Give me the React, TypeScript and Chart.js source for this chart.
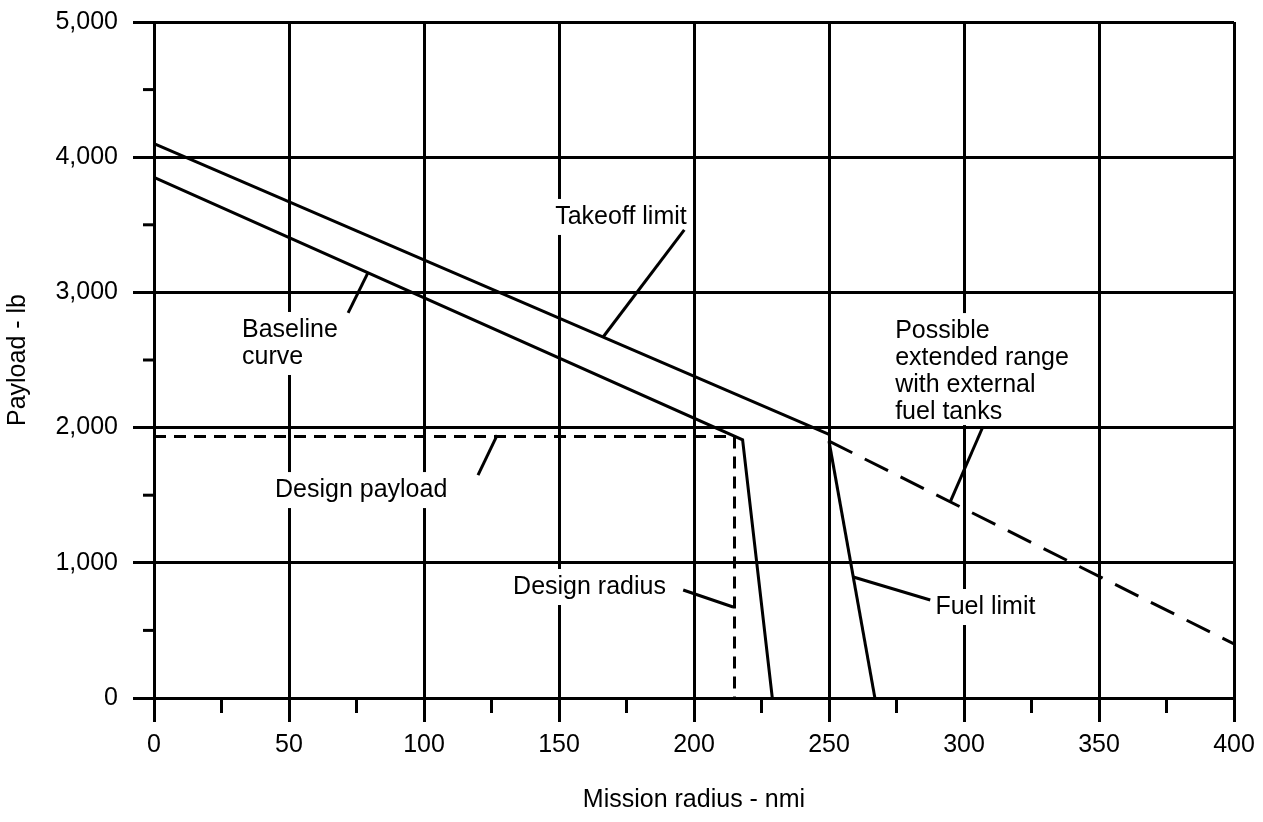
import React, { useEffect, useRef } from "react";
import { Chart, registerables } from "chart.js";

Chart.register(...registerables);

// ---- Data ----
const takeoffX = [0, 250];
const takeoffY = [4100, 1950];
const baselineX = [0, 218, 229];
const baselineY = [3850, 1910, 0];
const fuelX = [250, 267];
const fuelY = [1900, 0];
const extendedX = [250, 400];
const extendedY = [1900, 400];
const designPayloadX = [0, 215];
const designPayloadY = [1935, 1935];
const designRadiusX = [215, 215];
const designRadiusY = [1935, 0];

const xMinorTicks = [25, 75, 125, 175, 225, 275, 325, 375];
const yMinorTicks = [500, 1500, 2500, 3500, 4500];

// ---- Annotations (data coordinates) ----
const annotationTexts = [
  ["Takeoff limit"],
  ["Baseline", "curve"],
  ["Design payload"],
  ["Design radius"],
  ["Fuel limit"],
  ["Possible", "extended range", "with external", "fuel tanks"],
];
const annotationX = [148.6, 32.6, 44.8, 133, 289.4, 274.5];
const annotationY = [3558, 2722, 1538, 821, 673, 2714];
const annotationBoxBottom = [18, 18, 18, 18, 18, 13];
const leaderFrom = [
  [196.4, 3462],
  [71.9, 2848],
  [120, 1649],
  [196, 799],
  [287.5, 725],
  [306.8, 1997],
];
const leaderTo = [
  [166.4, 2672],
  [79.3, 3148],
  [127.1, 1945],
  [214.5, 673],
  [259, 895],
  [294.9, 1450],
];

const FONT = '"Liberation Sans", Arial, Helvetica, sans-serif';
const FS = 25;

const toPts = (xs: number[], ys: number[]) => xs.map((x, i) => ({ x, y: ys[i] }));

const annotationPlugin = {
  id: "annotations",
  beforeDatasetsDraw(chart: any) {
    const ctx = chart.ctx;
    const xs = chart.scales.x;
    const ys = chart.scales.y;
    ctx.save();
    // minor ticks
    ctx.strokeStyle = "#000";
    ctx.lineWidth = 3;
    ctx.lineCap = "butt";
    xMinorTicks.forEach((v) => {
      const px = xs.getPixelForValue(v);
      ctx.beginPath();
      ctx.moveTo(px, ys.bottom);
      ctx.lineTo(px, ys.bottom + 15);
      ctx.stroke();
    });
    yMinorTicks.forEach((v) => {
      const py = ys.getPixelForValue(v);
      ctx.beginPath();
      ctx.moveTo(xs.left - 11, py);
      ctx.lineTo(xs.left, py);
      ctx.stroke();
    });
    // labels with white boxes
    ctx.font = `${FS}px ${FONT}`;
    ctx.textBaseline = "middle";
    ctx.textAlign = "left";
    const lh = 27;
    annotationTexts.forEach((lines, i) => {
      const px = xs.getPixelForValue(annotationX[i]);
      const py = ys.getPixelForValue(annotationY[i]);
      const w = Math.max(...lines.map((l) => ctx.measureText(l).width));
      ctx.fillStyle = "#fff";
      ctx.fillRect(px - 5, py - 18, w + 10, (lines.length - 1) * lh + 18 + annotationBoxBottom[i]);
      ctx.fillStyle = "#000";
      lines.forEach((l, j) => ctx.fillText(l, px, py + j * lh));
    });
    // leader lines
    ctx.lineWidth = 3;
    leaderFrom.forEach((f, i) => {
      const t = leaderTo[i];
      ctx.beginPath();
      ctx.moveTo(xs.getPixelForValue(f[0]), ys.getPixelForValue(f[1]));
      ctx.lineTo(xs.getPixelForValue(t[0]), ys.getPixelForValue(t[1]));
      ctx.stroke();
    });
    ctx.restore();
  },
};

export default function App() {
  const ref = useRef<HTMLCanvasElement | null>(null);
  useEffect(() => {
    if (!ref.current) return;
    const line = (xs: number[], ys: number[], dash: number[] = []) => ({
      data: toPts(xs, ys),
      showLine: true,
      borderColor: "#000",
      backgroundColor: "#000",
      borderWidth: 3,
      borderDash: dash,
      pointRadius: 0,
      tension: 0,
      fill: false,
    });
    const chart = new Chart(ref.current, {
      type: "scatter",
      data: {
        datasets: [
          line(takeoffX, takeoffY),
          line(baselineX, baselineY),
          line(fuelX, fuelY),
          line(extendedX, extendedY, [26, 14]),
          line(designPayloadX, designPayloadY, [12, 8]),
          line(designRadiusX, designRadiusY, [12, 8]),
        ],
      },
      options: {
        animation: false,
        responsive: false,
        layout: { padding: { top: 22, right: 29, left: 0, bottom: 0 } },
        plugins: {
          legend: { display: false },
          tooltip: { enabled: false },
        },
        scales: {
          x: {
            type: "linear",
            min: 0,
            max: 400,
            afterFit: (s: any) => {
              s.height = 124;
            },
            ticks: {
              stepSize: 50,
              color: "#000",
              font: { family: FONT, size: FS },
              padding: 8,
              maxRotation: 0,
              autoSkip: false,
            },
            grid: {
              color: "#000",
              lineWidth: 3,
              tickLength: 24,
              drawTicks: true,
            },
            border: { display: true, color: "#000", width: 3 },
            title: {
              display: true,
              text: "Mission radius - nmi",
              color: "#000",
              font: { family: FONT, size: FS },
              padding: { top: 0, bottom: 7 },
            },
          },
          y: {
            type: "linear",
            min: 0,
            max: 5000,
            afterFit: (s: any) => {
              s.width = 154;
              s.paddingTop = 0;
              s.paddingBottom = 0;
            },
            ticks: {
              stepSize: 1000,
              color: "#000",
              font: { family: FONT, size: FS },
              padding: 15,
              callback: (v: any) => Number(v).toLocaleString("en-US"),
            },
            grid: {
              color: "#000",
              lineWidth: 3,
              tickLength: 21,
              drawTicks: true,
            },
            border: { display: true, color: "#000", width: 3 },
            title: {
              display: true,
              text: "Payload - lb",
              color: "#000",
              font: { family: FONT, size: FS },
              padding: { top: 3, bottom: 0 },
            },
          },
        },
      },
      plugins: [annotationPlugin],
    });
    return () => chart.destroy();
  }, []);
  return (
    <div style={{ position: "absolute", left: 0, top: 0, width: 1263, height: 822, background: "#fff" }}>
      <canvas ref={ref} width={1263} height={822} style={{ display: "block" }} />
    </div>
  );
}
